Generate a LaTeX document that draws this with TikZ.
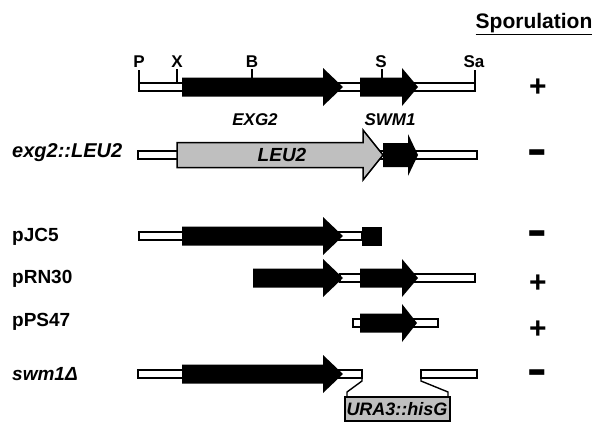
\documentclass[tikz,border=0pt]{standalone}
\usepackage{fontspec}
\setmainfont{Liberation Sans}
\usetikzlibrary{positioning}
\tikzset{
    every node/.style={font=\bfseries\fontsize{17}{20}\selectfont, inner sep=0pt},
    vector/.style={draw, line width=1.4pt, fill=white},
    orf/.style={fill=black},
    site/.style={draw, line width=1.4pt},
    strain/.style={anchor=west, font=\bfseries\fontsize{19}{22}\selectfont},
    gene/.style={font=\bfseries\itshape\fontsize{17}{20}\selectfont},
    sign/.style={font=\bfseries\fontsize{30}{30}\selectfont},
    insert/.style={draw, line width=1.5pt, fill=gray!50}
}
% gene arrow: start, head base, tip, row
\newcommand{\orfarrow}[5][orf]{%
  \path[#1] (#2,#5-9.5) -- (#3,#5-9.5) -- (#3,#5-19) -- (#4,#5)
    -- (#3,#5+19) -- (#3,#5+9.5) -- (#2,#5+9.5) -- cycle;}
\newcommand{\minussign}{\scalebox{1}[1.7]{−}}

\begin{document}
\begin{tikzpicture}[x=1pt, y=-1pt]
  \useasboundingbox (0,0) rectangle (600,424);

  % column head
  \node[font=\bfseries\fontsize{21}{24}\selectfont] (spo) at (534,24) {\underline{Sporulation}};

  % wild type locus with restriction sites
  \draw[vector] (139,83) rectangle (475,91);
  \draw[site] (139,70) -- (139,91);
  \draw[site] (177,69) -- (177,83);
  \draw[site] (252,69) -- (252,78);
  \draw[site] (382,69) -- (382,78);
  \draw[site] (475,70) -- (475,91);
  \node (P)  at (139,62) {P};
  \node (X)  at (177,62) {X};
  \node (B)  at (252,62) {B};
  \node (S)  at (381,62) {S};
  \node (Sa) at (474,62) {Sa};
  \orfarrow{182}{323}{343}{87}
  \orfarrow{360}{402}{418}{87}
  \node[gene] (exg) at (255,120) {EXG2};
  \node[gene] (swm) at (390,120) {SWM1};

  % disruption by LEU2
  \node[strain, gene, font=\bfseries\itshape\fontsize{20}{22}\selectfont] (dis) at (12,153) {exg2::LEU2};
  \draw[vector] (138,151) rectangle (477,159);
  \path[insert] (177,142.5) -- (363,142.5) -- (363,130) -- (383,155)
    -- (363,180) -- (363,167.5) -- (177,167.5) -- cycle;
  \node[gene, font=\bfseries\itshape\fontsize{19}{22}\selectfont] (leu) at (282,155) {LEU2};
  \path[orf] (383,143) -- (408,143) -- (408,134) -- (418,155)
    -- (408,176) -- (408,167) -- (383,167) -- cycle;

  % plasmids
  \node[strain] (jc) at (12,237) {pJC5};
  \draw[vector] (139,232) rectangle (362,240);
  \orfarrow{182}{323}{343}{236}
  \fill (362,226.5) rectangle (382,245.5);

  \node[strain] (rn) at (12,279) {pRN30};
  \draw[vector] (340,274) rectangle (475,282);
  \orfarrow{253}{323}{343}{278}
  \orfarrow{360}{402}{418}{278}

  \node[strain] (ps) at (12,322) {pPS47};
  \draw[vector] (353,319) rectangle (438,327);
  \orfarrow{360}{402}{417}{323}

  % deletion by URA3::hisG
  \node[strain, font=\bfseries\itshape\fontsize{19}{22}\selectfont] (del) at (12,374) {swm1Δ};
  \draw[vector] (138,370) rectangle (362,378);
  \draw[vector] (421,370) rectangle (477,378);
  \orfarrow{182}{323}{343}{374}
  \draw[site] (362,378) -- (362,381) -- (347,392) -- (347,397);
  \draw[site] (421,378) -- (421,381) -- (448,392) -- (448,397);
  \draw[insert] (345,397) rectangle (450,421);
  \node[gene, font=\bfseries\itshape\fontsize{18}{20}\selectfont] (ura) at (397,409) {URA3::hisG};

  % sporulation phenotype
  \node[sign] (s1) at (538,88)  {+};
  \node[sign] (s2) at (537,160) {\minussign};
  \node[sign] (s3) at (537,241) {\minussign};
  \node[sign] (s4) at (538,284) {+};
  \node[sign] (s5) at (538,330) {+};
  \node[sign] (s6) at (537,380) {\minussign};
\end{tikzpicture}
\end{document}
